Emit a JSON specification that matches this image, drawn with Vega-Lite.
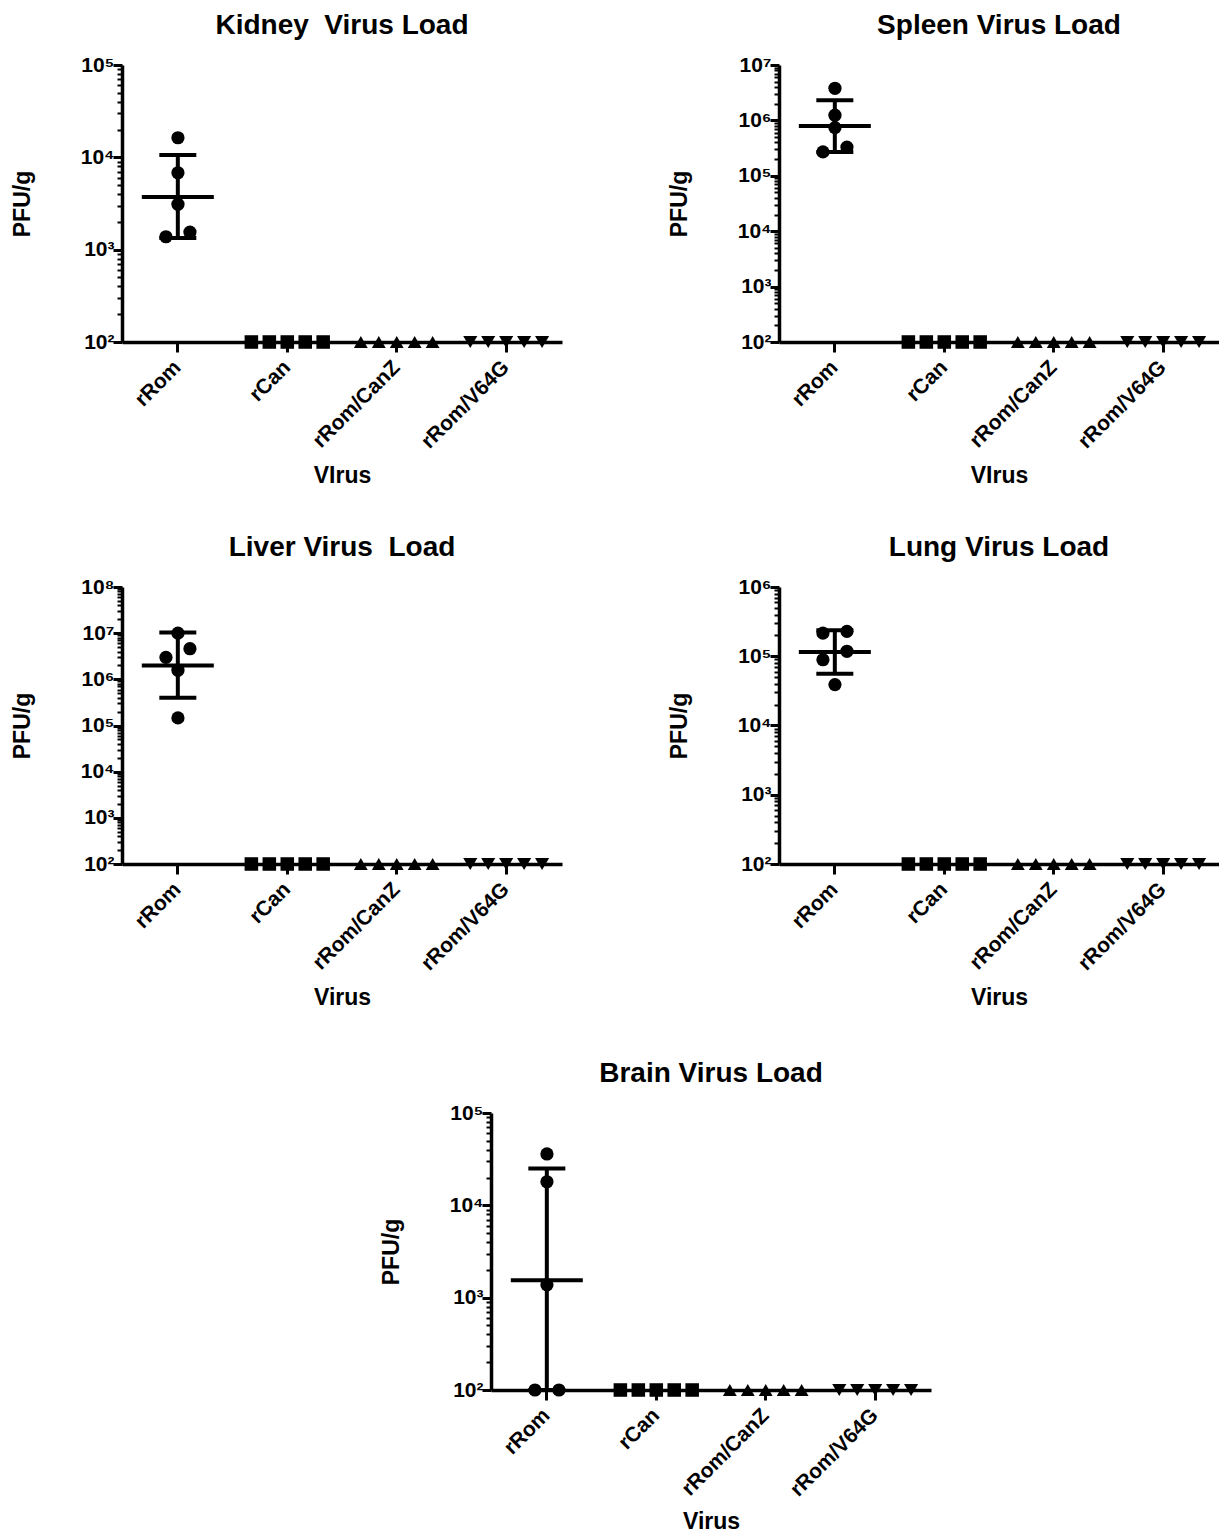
{
  "$schema": "https://vega.github.io/schema/vega-lite/v6.json",
  "background": "white",
  "padding": {"left": 11, "top": 12, "right": 0, "bottom": 0},
  "datasets": {
    "points": [
      {"tissue": "Kidney", "virus": "rRom", "mouse": 1, "pfu": 1380},
      {"tissue": "Kidney", "virus": "rRom", "mouse": 2, "pfu": 16300},
      {"tissue": "Kidney", "virus": "rRom", "mouse": 3, "pfu": 6800},
      {"tissue": "Kidney", "virus": "rRom", "mouse": 4, "pfu": 3100},
      {"tissue": "Kidney", "virus": "rRom", "mouse": 5, "pfu": 1550},
      {"tissue": "Kidney", "virus": "rCan", "mouse": 1, "pfu": 100},
      {"tissue": "Kidney", "virus": "rCan", "mouse": 2, "pfu": 100},
      {"tissue": "Kidney", "virus": "rCan", "mouse": 3, "pfu": 100},
      {"tissue": "Kidney", "virus": "rCan", "mouse": 4, "pfu": 100},
      {"tissue": "Kidney", "virus": "rCan", "mouse": 5, "pfu": 100},
      {"tissue": "Kidney", "virus": "rRom/CanZ", "mouse": 1, "pfu": 100},
      {"tissue": "Kidney", "virus": "rRom/CanZ", "mouse": 2, "pfu": 100},
      {"tissue": "Kidney", "virus": "rRom/CanZ", "mouse": 3, "pfu": 100},
      {"tissue": "Kidney", "virus": "rRom/CanZ", "mouse": 4, "pfu": 100},
      {"tissue": "Kidney", "virus": "rRom/CanZ", "mouse": 5, "pfu": 100},
      {"tissue": "Kidney", "virus": "rRom/V64G", "mouse": 1, "pfu": 100},
      {"tissue": "Kidney", "virus": "rRom/V64G", "mouse": 2, "pfu": 100},
      {"tissue": "Kidney", "virus": "rRom/V64G", "mouse": 3, "pfu": 100},
      {"tissue": "Kidney", "virus": "rRom/V64G", "mouse": 4, "pfu": 100},
      {"tissue": "Kidney", "virus": "rRom/V64G", "mouse": 5, "pfu": 100},
      {"tissue": "Spleen", "virus": "rRom", "mouse": 1, "pfu": 270000},
      {"tissue": "Spleen", "virus": "rRom", "mouse": 2, "pfu": 3800000},
      {"tissue": "Spleen", "virus": "rRom", "mouse": 3, "pfu": 1240000},
      {"tissue": "Spleen", "virus": "rRom", "mouse": 4, "pfu": 740000},
      {"tissue": "Spleen", "virus": "rRom", "mouse": 5, "pfu": 330000},
      {"tissue": "Spleen", "virus": "rCan", "mouse": 1, "pfu": 100},
      {"tissue": "Spleen", "virus": "rCan", "mouse": 2, "pfu": 100},
      {"tissue": "Spleen", "virus": "rCan", "mouse": 3, "pfu": 100},
      {"tissue": "Spleen", "virus": "rCan", "mouse": 4, "pfu": 100},
      {"tissue": "Spleen", "virus": "rCan", "mouse": 5, "pfu": 100},
      {"tissue": "Spleen", "virus": "rRom/CanZ", "mouse": 1, "pfu": 100},
      {"tissue": "Spleen", "virus": "rRom/CanZ", "mouse": 2, "pfu": 100},
      {"tissue": "Spleen", "virus": "rRom/CanZ", "mouse": 3, "pfu": 100},
      {"tissue": "Spleen", "virus": "rRom/CanZ", "mouse": 4, "pfu": 100},
      {"tissue": "Spleen", "virus": "rRom/CanZ", "mouse": 5, "pfu": 100},
      {"tissue": "Spleen", "virus": "rRom/V64G", "mouse": 1, "pfu": 100},
      {"tissue": "Spleen", "virus": "rRom/V64G", "mouse": 2, "pfu": 100},
      {"tissue": "Spleen", "virus": "rRom/V64G", "mouse": 3, "pfu": 100},
      {"tissue": "Spleen", "virus": "rRom/V64G", "mouse": 4, "pfu": 100},
      {"tissue": "Spleen", "virus": "rRom/V64G", "mouse": 5, "pfu": 100},
      {"tissue": "Liver", "virus": "rRom", "mouse": 1, "pfu": 3000000},
      {"tissue": "Liver", "virus": "rRom", "mouse": 2, "pfu": 10000000},
      {"tissue": "Liver", "virus": "rRom", "mouse": 3, "pfu": 1570000},
      {"tissue": "Liver", "virus": "rRom", "mouse": 4, "pfu": 146000},
      {"tissue": "Liver", "virus": "rRom", "mouse": 5, "pfu": 4600000},
      {"tissue": "Liver", "virus": "rCan", "mouse": 1, "pfu": 100},
      {"tissue": "Liver", "virus": "rCan", "mouse": 2, "pfu": 100},
      {"tissue": "Liver", "virus": "rCan", "mouse": 3, "pfu": 100},
      {"tissue": "Liver", "virus": "rCan", "mouse": 4, "pfu": 100},
      {"tissue": "Liver", "virus": "rCan", "mouse": 5, "pfu": 100},
      {"tissue": "Liver", "virus": "rRom/CanZ", "mouse": 1, "pfu": 100},
      {"tissue": "Liver", "virus": "rRom/CanZ", "mouse": 2, "pfu": 100},
      {"tissue": "Liver", "virus": "rRom/CanZ", "mouse": 3, "pfu": 100},
      {"tissue": "Liver", "virus": "rRom/CanZ", "mouse": 4, "pfu": 100},
      {"tissue": "Liver", "virus": "rRom/CanZ", "mouse": 5, "pfu": 100},
      {"tissue": "Liver", "virus": "rRom/V64G", "mouse": 1, "pfu": 100},
      {"tissue": "Liver", "virus": "rRom/V64G", "mouse": 2, "pfu": 100},
      {"tissue": "Liver", "virus": "rRom/V64G", "mouse": 3, "pfu": 100},
      {"tissue": "Liver", "virus": "rRom/V64G", "mouse": 4, "pfu": 100},
      {"tissue": "Liver", "virus": "rRom/V64G", "mouse": 5, "pfu": 100},
      {"tissue": "Lung", "virus": "rRom", "mouse": 1, "pfu": 216000},
      {"tissue": "Lung", "virus": "rRom", "mouse": 2, "pfu": 89000},
      {"tissue": "Lung", "virus": "rRom", "mouse": 3, "pfu": 39000},
      {"tissue": "Lung", "virus": "rRom", "mouse": 4, "pfu": 118000},
      {"tissue": "Lung", "virus": "rRom", "mouse": 5, "pfu": 229000},
      {"tissue": "Lung", "virus": "rCan", "mouse": 1, "pfu": 100},
      {"tissue": "Lung", "virus": "rCan", "mouse": 2, "pfu": 100},
      {"tissue": "Lung", "virus": "rCan", "mouse": 3, "pfu": 100},
      {"tissue": "Lung", "virus": "rCan", "mouse": 4, "pfu": 100},
      {"tissue": "Lung", "virus": "rCan", "mouse": 5, "pfu": 100},
      {"tissue": "Lung", "virus": "rRom/CanZ", "mouse": 1, "pfu": 100},
      {"tissue": "Lung", "virus": "rRom/CanZ", "mouse": 2, "pfu": 100},
      {"tissue": "Lung", "virus": "rRom/CanZ", "mouse": 3, "pfu": 100},
      {"tissue": "Lung", "virus": "rRom/CanZ", "mouse": 4, "pfu": 100},
      {"tissue": "Lung", "virus": "rRom/CanZ", "mouse": 5, "pfu": 100},
      {"tissue": "Lung", "virus": "rRom/V64G", "mouse": 1, "pfu": 100},
      {"tissue": "Lung", "virus": "rRom/V64G", "mouse": 2, "pfu": 100},
      {"tissue": "Lung", "virus": "rRom/V64G", "mouse": 3, "pfu": 100},
      {"tissue": "Lung", "virus": "rRom/V64G", "mouse": 4, "pfu": 100},
      {"tissue": "Lung", "virus": "rRom/V64G", "mouse": 5, "pfu": 100},
      {"tissue": "Brain", "virus": "rRom", "mouse": 1, "pfu": 100},
      {"tissue": "Brain", "virus": "rRom", "mouse": 2, "pfu": 36000},
      {"tissue": "Brain", "virus": "rRom", "mouse": 3, "pfu": 18000},
      {"tissue": "Brain", "virus": "rRom", "mouse": 4, "pfu": 1380},
      {"tissue": "Brain", "virus": "rRom", "mouse": 5, "pfu": 100},
      {"tissue": "Brain", "virus": "rCan", "mouse": 1, "pfu": 100},
      {"tissue": "Brain", "virus": "rCan", "mouse": 2, "pfu": 100},
      {"tissue": "Brain", "virus": "rCan", "mouse": 3, "pfu": 100},
      {"tissue": "Brain", "virus": "rCan", "mouse": 4, "pfu": 100},
      {"tissue": "Brain", "virus": "rCan", "mouse": 5, "pfu": 100},
      {"tissue": "Brain", "virus": "rRom/CanZ", "mouse": 1, "pfu": 100},
      {"tissue": "Brain", "virus": "rRom/CanZ", "mouse": 2, "pfu": 100},
      {"tissue": "Brain", "virus": "rRom/CanZ", "mouse": 3, "pfu": 100},
      {"tissue": "Brain", "virus": "rRom/CanZ", "mouse": 4, "pfu": 100},
      {"tissue": "Brain", "virus": "rRom/CanZ", "mouse": 5, "pfu": 100},
      {"tissue": "Brain", "virus": "rRom/V64G", "mouse": 1, "pfu": 100},
      {"tissue": "Brain", "virus": "rRom/V64G", "mouse": 2, "pfu": 100},
      {"tissue": "Brain", "virus": "rRom/V64G", "mouse": 3, "pfu": 100},
      {"tissue": "Brain", "virus": "rRom/V64G", "mouse": 4, "pfu": 100},
      {"tissue": "Brain", "virus": "rRom/V64G", "mouse": 5, "pfu": 100}
    ],
    "summary": [
      {"tissue": "Kidney", "virus": "rRom", "gmean": 3720, "lo": 1340, "hi": 10600},
      {"tissue": "Spleen", "virus": "rRom", "gmean": 790000, "lo": 270000, "hi": 2300000},
      {"tissue": "Liver", "virus": "rRom", "gmean": 1990000, "lo": 400000, "hi": 10400000},
      {"tissue": "Lung", "virus": "rRom", "gmean": 115000, "lo": 56000, "hi": 237000},
      {"tissue": "Brain", "virus": "rRom", "gmean": 1540, "lo": 100, "hi": 25000}
    ]
  },
  "vconcat": [
    {
      "spacing": 46,
      "vconcat": [
        {
          "spacing": 106,
          "hconcat": [
            {
              "width": 440, "height": 277,
              "title": "Kidney\u00a0 Virus Load",
              "layer": [
                {"data": {"name": "summary"}, "transform": [{"filter": "datum.tissue == 'Kidney'"}],
                 "mark": {"type": "tick", "size": 72, "thickness": 4, "color": "black", "opacity": 1},
                 "encoding": {
                   "x": {"field": "virus", "type": "nominal", "title": "VIrus", "scale": {"type": "band", "domain": ["rRom", "rCan", "rRom/CanZ", "rRom/V64G"], "paddingInner": 0.18, "paddingOuter": 0.1}},
                   "y": {"field": "gmean", "type": "quantitative", "title": "PFU/g", "scale": {"type": "log", "domain": [100, 100000], "nice": false},
                         "axis": {"values": [1e2,2e2,3e2,4e2,5e2,6e2,7e2,8e2,9e2,1e3,2e3,3e3,4e3,5e3,6e3,7e3,8e3,9e3,1e4,2e4,3e4,4e4,5e4,6e4,7e4,8e4,9e4,1e5,2e5,3e5,4e5,5e5,6e5,7e5,8e5,9e5,1e6,2e6,3e6,4e6,5e6,6e6,7e6,8e6,9e6,1e7,2e7,3e7,4e7,5e7,6e7,7e7,8e7,9e7,1e8]}}
                 }},
                {"data": {"name": "summary"}, "transform": [{"filter": "datum.tissue == 'Kidney'"}],
                 "mark": {"type": "errorbar", "ticks": {"size": 37, "thickness": 4, "color": "black", "opacity": 1}, "rule": {"strokeWidth": 4, "color": "black", "opacity": 1}},
                 "encoding": {
                   "x": {"field": "virus", "type": "nominal", "title": "VIrus", "scale": {"type": "band", "domain": ["rRom", "rCan", "rRom/CanZ", "rRom/V64G"], "paddingInner": 0.18, "paddingOuter": 0.1}},
                   "y": {"field": "lo", "type": "quantitative", "title": "PFU/g", "scale": {"type": "log", "domain": [100, 100000], "nice": false}},
                   "y2": {"field": "hi"}
                 }},
                {"data": {"name": "points"}, "transform": [{"filter": "datum.tissue == 'Kidney' && datum.virus == 'rRom'"}],
                 "mark": {"type": "point", "filled": true, "opacity": 1, "color": "black"},
                 "encoding": {
                   "x": {"field": "virus", "type": "nominal", "title": "VIrus", "scale": {"type": "band", "domain": ["rRom", "rCan", "rRom/CanZ", "rRom/V64G"], "paddingInner": 0.18, "paddingOuter": 0.1}},
                   "xOffset": {"field": "mouse", "type": "quantitative", "scale": {"domain": [1, 2, 3, 4, 5], "range": [33, 45, 45, 45, 57], "nice": false, "zero": false}},
                   "y": {"field": "pfu", "type": "quantitative", "title": "PFU/g", "scale": {"type": "log", "domain": [100, 100000], "nice": false}},
                   "shape": {"field": "virus", "type": "nominal", "legend": null, "scale": {"domain": ["rRom", "rCan", "rRom/CanZ", "rRom/V64G"], "range": ["circle", "square", "triangle-up", "triangle-down"]}},
                   "size": {"field": "virus", "type": "nominal", "legend": null, "scale": {"domain": ["rRom", "rCan", "rRom/CanZ", "rRom/V64G"], "range": [175, 200, 200, 200]}}
                 }},
                {"data": {"name": "points"}, "transform": [{"filter": "datum.tissue == 'Kidney' && datum.virus != 'rRom'"}],
                 "mark": {"type": "point", "filled": true, "opacity": 1, "color": "black"},
                 "encoding": {
                   "x": {"field": "virus", "type": "nominal", "title": "VIrus", "scale": {"type": "band", "domain": ["rRom", "rCan", "rRom/CanZ", "rRom/V64G"], "paddingInner": 0.18, "paddingOuter": 0.1}},
                   "xOffset": {"field": "mouse", "type": "ordinal"},
                   "y": {"field": "pfu", "type": "quantitative", "title": "PFU/g", "scale": {"type": "log", "domain": [100, 100000], "nice": false}},
                   "shape": {"field": "virus", "type": "nominal", "legend": null, "scale": {"domain": ["rRom", "rCan", "rRom/CanZ", "rRom/V64G"], "range": ["circle", "square", "triangle-up", "triangle-down"]}},
                   "size": {"field": "virus", "type": "nominal", "legend": null, "scale": {"domain": ["rRom", "rCan", "rRom/CanZ", "rRom/V64G"], "range": [175, 200, 200, 200]}}
                 }}
              ],
              "resolve": {"scale": {"xOffset": "independent"}}
            },
            {
              "width": 440, "height": 277,
              "title": "Spleen Virus Load",
              "layer": [
                {"data": {"name": "summary"}, "transform": [{"filter": "datum.tissue == 'Spleen'"}],
                 "mark": {"type": "tick", "size": 72, "thickness": 4, "color": "black", "opacity": 1},
                 "encoding": {
                   "x": {"field": "virus", "type": "nominal", "title": "VIrus", "scale": {"type": "band", "domain": ["rRom", "rCan", "rRom/CanZ", "rRom/V64G"], "paddingInner": 0.18, "paddingOuter": 0.1}},
                   "y": {"field": "gmean", "type": "quantitative", "title": "PFU/g", "scale": {"type": "log", "domain": [100, 10000000], "nice": false},
                         "axis": {"values": [1e2,2e2,3e2,4e2,5e2,6e2,7e2,8e2,9e2,1e3,2e3,3e3,4e3,5e3,6e3,7e3,8e3,9e3,1e4,2e4,3e4,4e4,5e4,6e4,7e4,8e4,9e4,1e5,2e5,3e5,4e5,5e5,6e5,7e5,8e5,9e5,1e6,2e6,3e6,4e6,5e6,6e6,7e6,8e6,9e6,1e7,2e7,3e7,4e7,5e7,6e7,7e7,8e7,9e7,1e8]}}
                 }},
                {"data": {"name": "summary"}, "transform": [{"filter": "datum.tissue == 'Spleen'"}],
                 "mark": {"type": "errorbar", "ticks": {"size": 37, "thickness": 4, "color": "black", "opacity": 1}, "rule": {"strokeWidth": 4, "color": "black", "opacity": 1}},
                 "encoding": {
                   "x": {"field": "virus", "type": "nominal", "title": "VIrus", "scale": {"type": "band", "domain": ["rRom", "rCan", "rRom/CanZ", "rRom/V64G"], "paddingInner": 0.18, "paddingOuter": 0.1}},
                   "y": {"field": "lo", "type": "quantitative", "title": "PFU/g", "scale": {"type": "log", "domain": [100, 10000000], "nice": false}},
                   "y2": {"field": "hi"}
                 }},
                {"data": {"name": "points"}, "transform": [{"filter": "datum.tissue == 'Spleen' && datum.virus == 'rRom'"}],
                 "mark": {"type": "point", "filled": true, "opacity": 1, "color": "black"},
                 "encoding": {
                   "x": {"field": "virus", "type": "nominal", "title": "VIrus", "scale": {"type": "band", "domain": ["rRom", "rCan", "rRom/CanZ", "rRom/V64G"], "paddingInner": 0.18, "paddingOuter": 0.1}},
                   "xOffset": {"field": "mouse", "type": "quantitative", "scale": {"domain": [1, 2, 3, 4, 5], "range": [33, 45, 45, 45, 57], "nice": false, "zero": false}},
                   "y": {"field": "pfu", "type": "quantitative", "title": "PFU/g", "scale": {"type": "log", "domain": [100, 10000000], "nice": false}},
                   "shape": {"field": "virus", "type": "nominal", "legend": null, "scale": {"domain": ["rRom", "rCan", "rRom/CanZ", "rRom/V64G"], "range": ["circle", "square", "triangle-up", "triangle-down"]}},
                   "size": {"field": "virus", "type": "nominal", "legend": null, "scale": {"domain": ["rRom", "rCan", "rRom/CanZ", "rRom/V64G"], "range": [175, 200, 200, 200]}}
                 }},
                {"data": {"name": "points"}, "transform": [{"filter": "datum.tissue == 'Spleen' && datum.virus != 'rRom'"}],
                 "mark": {"type": "point", "filled": true, "opacity": 1, "color": "black"},
                 "encoding": {
                   "x": {"field": "virus", "type": "nominal", "title": "VIrus", "scale": {"type": "band", "domain": ["rRom", "rCan", "rRom/CanZ", "rRom/V64G"], "paddingInner": 0.18, "paddingOuter": 0.1}},
                   "xOffset": {"field": "mouse", "type": "ordinal"},
                   "y": {"field": "pfu", "type": "quantitative", "title": "PFU/g", "scale": {"type": "log", "domain": [100, 10000000], "nice": false}},
                   "shape": {"field": "virus", "type": "nominal", "legend": null, "scale": {"domain": ["rRom", "rCan", "rRom/CanZ", "rRom/V64G"], "range": ["circle", "square", "triangle-up", "triangle-down"]}},
                   "size": {"field": "virus", "type": "nominal", "legend": null, "scale": {"domain": ["rRom", "rCan", "rRom/CanZ", "rRom/V64G"], "range": [175, 200, 200, 200]}}
                 }}
              ],
              "resolve": {"scale": {"xOffset": "independent"}}
            }
          ]
        },
        {
          "spacing": 106,
          "hconcat": [
            {
              "width": 440, "height": 277,
              "title": "Liver Virus\u00a0 Load",
              "layer": [
                {"data": {"name": "summary"}, "transform": [{"filter": "datum.tissue == 'Liver'"}],
                 "mark": {"type": "tick", "size": 72, "thickness": 4, "color": "black", "opacity": 1},
                 "encoding": {
                   "x": {"field": "virus", "type": "nominal", "title": "Virus", "scale": {"type": "band", "domain": ["rRom", "rCan", "rRom/CanZ", "rRom/V64G"], "paddingInner": 0.18, "paddingOuter": 0.1}},
                   "y": {"field": "gmean", "type": "quantitative", "title": "PFU/g", "scale": {"type": "log", "domain": [100, 100000000], "nice": false},
                         "axis": {"values": [1e2,2e2,3e2,4e2,5e2,6e2,7e2,8e2,9e2,1e3,2e3,3e3,4e3,5e3,6e3,7e3,8e3,9e3,1e4,2e4,3e4,4e4,5e4,6e4,7e4,8e4,9e4,1e5,2e5,3e5,4e5,5e5,6e5,7e5,8e5,9e5,1e6,2e6,3e6,4e6,5e6,6e6,7e6,8e6,9e6,1e7,2e7,3e7,4e7,5e7,6e7,7e7,8e7,9e7,1e8]}}
                 }},
                {"data": {"name": "summary"}, "transform": [{"filter": "datum.tissue == 'Liver'"}],
                 "mark": {"type": "errorbar", "ticks": {"size": 37, "thickness": 4, "color": "black", "opacity": 1}, "rule": {"strokeWidth": 4, "color": "black", "opacity": 1}},
                 "encoding": {
                   "x": {"field": "virus", "type": "nominal", "title": "Virus", "scale": {"type": "band", "domain": ["rRom", "rCan", "rRom/CanZ", "rRom/V64G"], "paddingInner": 0.18, "paddingOuter": 0.1}},
                   "y": {"field": "lo", "type": "quantitative", "title": "PFU/g", "scale": {"type": "log", "domain": [100, 100000000], "nice": false}},
                   "y2": {"field": "hi"}
                 }},
                {"data": {"name": "points"}, "transform": [{"filter": "datum.tissue == 'Liver' && datum.virus == 'rRom'"}],
                 "mark": {"type": "point", "filled": true, "opacity": 1, "color": "black"},
                 "encoding": {
                   "x": {"field": "virus", "type": "nominal", "title": "Virus", "scale": {"type": "band", "domain": ["rRom", "rCan", "rRom/CanZ", "rRom/V64G"], "paddingInner": 0.18, "paddingOuter": 0.1}},
                   "xOffset": {"field": "mouse", "type": "quantitative", "scale": {"domain": [1, 2, 3, 4, 5], "range": [33, 45, 45, 45, 57], "nice": false, "zero": false}},
                   "y": {"field": "pfu", "type": "quantitative", "title": "PFU/g", "scale": {"type": "log", "domain": [100, 100000000], "nice": false}},
                   "shape": {"field": "virus", "type": "nominal", "legend": null, "scale": {"domain": ["rRom", "rCan", "rRom/CanZ", "rRom/V64G"], "range": ["circle", "square", "triangle-up", "triangle-down"]}},
                   "size": {"field": "virus", "type": "nominal", "legend": null, "scale": {"domain": ["rRom", "rCan", "rRom/CanZ", "rRom/V64G"], "range": [175, 200, 200, 200]}}
                 }},
                {"data": {"name": "points"}, "transform": [{"filter": "datum.tissue == 'Liver' && datum.virus != 'rRom'"}],
                 "mark": {"type": "point", "filled": true, "opacity": 1, "color": "black"},
                 "encoding": {
                   "x": {"field": "virus", "type": "nominal", "title": "Virus", "scale": {"type": "band", "domain": ["rRom", "rCan", "rRom/CanZ", "rRom/V64G"], "paddingInner": 0.18, "paddingOuter": 0.1}},
                   "xOffset": {"field": "mouse", "type": "ordinal"},
                   "y": {"field": "pfu", "type": "quantitative", "title": "PFU/g", "scale": {"type": "log", "domain": [100, 100000000], "nice": false}},
                   "shape": {"field": "virus", "type": "nominal", "legend": null, "scale": {"domain": ["rRom", "rCan", "rRom/CanZ", "rRom/V64G"], "range": ["circle", "square", "triangle-up", "triangle-down"]}},
                   "size": {"field": "virus", "type": "nominal", "legend": null, "scale": {"domain": ["rRom", "rCan", "rRom/CanZ", "rRom/V64G"], "range": [175, 200, 200, 200]}}
                 }}
              ],
              "resolve": {"scale": {"xOffset": "independent"}}
            },
            {
              "width": 440, "height": 277,
              "title": "Lung Virus Load",
              "layer": [
                {"data": {"name": "summary"}, "transform": [{"filter": "datum.tissue == 'Lung'"}],
                 "mark": {"type": "tick", "size": 72, "thickness": 4, "color": "black", "opacity": 1},
                 "encoding": {
                   "x": {"field": "virus", "type": "nominal", "title": "Virus", "scale": {"type": "band", "domain": ["rRom", "rCan", "rRom/CanZ", "rRom/V64G"], "paddingInner": 0.18, "paddingOuter": 0.1}},
                   "y": {"field": "gmean", "type": "quantitative", "title": "PFU/g", "scale": {"type": "log", "domain": [100, 1000000], "nice": false},
                         "axis": {"values": [1e2,2e2,3e2,4e2,5e2,6e2,7e2,8e2,9e2,1e3,2e3,3e3,4e3,5e3,6e3,7e3,8e3,9e3,1e4,2e4,3e4,4e4,5e4,6e4,7e4,8e4,9e4,1e5,2e5,3e5,4e5,5e5,6e5,7e5,8e5,9e5,1e6,2e6,3e6,4e6,5e6,6e6,7e6,8e6,9e6,1e7,2e7,3e7,4e7,5e7,6e7,7e7,8e7,9e7,1e8]}}
                 }},
                {"data": {"name": "summary"}, "transform": [{"filter": "datum.tissue == 'Lung'"}],
                 "mark": {"type": "errorbar", "ticks": {"size": 37, "thickness": 4, "color": "black", "opacity": 1}, "rule": {"strokeWidth": 4, "color": "black", "opacity": 1}},
                 "encoding": {
                   "x": {"field": "virus", "type": "nominal", "title": "Virus", "scale": {"type": "band", "domain": ["rRom", "rCan", "rRom/CanZ", "rRom/V64G"], "paddingInner": 0.18, "paddingOuter": 0.1}},
                   "y": {"field": "lo", "type": "quantitative", "title": "PFU/g", "scale": {"type": "log", "domain": [100, 1000000], "nice": false}},
                   "y2": {"field": "hi"}
                 }},
                {"data": {"name": "points"}, "transform": [{"filter": "datum.tissue == 'Lung' && datum.virus == 'rRom'"}],
                 "mark": {"type": "point", "filled": true, "opacity": 1, "color": "black"},
                 "encoding": {
                   "x": {"field": "virus", "type": "nominal", "title": "Virus", "scale": {"type": "band", "domain": ["rRom", "rCan", "rRom/CanZ", "rRom/V64G"], "paddingInner": 0.18, "paddingOuter": 0.1}},
                   "xOffset": {"field": "mouse", "type": "quantitative", "scale": {"domain": [1, 2, 3, 4, 5], "range": [33, 33, 45, 57, 57], "nice": false, "zero": false}},
                   "y": {"field": "pfu", "type": "quantitative", "title": "PFU/g", "scale": {"type": "log", "domain": [100, 1000000], "nice": false}},
                   "shape": {"field": "virus", "type": "nominal", "legend": null, "scale": {"domain": ["rRom", "rCan", "rRom/CanZ", "rRom/V64G"], "range": ["circle", "square", "triangle-up", "triangle-down"]}},
                   "size": {"field": "virus", "type": "nominal", "legend": null, "scale": {"domain": ["rRom", "rCan", "rRom/CanZ", "rRom/V64G"], "range": [175, 200, 200, 200]}}
                 }},
                {"data": {"name": "points"}, "transform": [{"filter": "datum.tissue == 'Lung' && datum.virus != 'rRom'"}],
                 "mark": {"type": "point", "filled": true, "opacity": 1, "color": "black"},
                 "encoding": {
                   "x": {"field": "virus", "type": "nominal", "title": "Virus", "scale": {"type": "band", "domain": ["rRom", "rCan", "rRom/CanZ", "rRom/V64G"], "paddingInner": 0.18, "paddingOuter": 0.1}},
                   "xOffset": {"field": "mouse", "type": "ordinal"},
                   "y": {"field": "pfu", "type": "quantitative", "title": "PFU/g", "scale": {"type": "log", "domain": [100, 1000000], "nice": false}},
                   "shape": {"field": "virus", "type": "nominal", "legend": null, "scale": {"domain": ["rRom", "rCan", "rRom/CanZ", "rRom/V64G"], "range": ["circle", "square", "triangle-up", "triangle-down"]}},
                   "size": {"field": "virus", "type": "nominal", "legend": null, "scale": {"domain": ["rRom", "rCan", "rRom/CanZ", "rRom/V64G"], "range": [175, 200, 200, 200]}}
                 }}
              ],
              "resolve": {"scale": {"xOffset": "independent"}}
            }
          ]
        }
      ]
    },
    {
      "spacing": 20,
      "hconcat": [
        {"width": 238, "height": 10, "data": {"values": [{}]}, "mark": {"type": "text", "text": ""}, "encoding": {}},
        {
          "width": 440, "height": 277,
          "title": "Brain Virus Load",
          "layer": [
            {"data": {"name": "summary"}, "transform": [{"filter": "datum.tissue == 'Brain'"}],
             "mark": {"type": "tick", "size": 72, "thickness": 4, "color": "black", "opacity": 1},
             "encoding": {
               "x": {"field": "virus", "type": "nominal", "title": "Virus", "scale": {"type": "band", "domain": ["rRom", "rCan", "rRom/CanZ", "rRom/V64G"], "paddingInner": 0.18, "paddingOuter": 0.1}, "axis": {"titlePadding": 11}},
               "y": {"field": "gmean", "type": "quantitative", "title": "PFU/g", "scale": {"type": "log", "domain": [100, 100000], "nice": false},
                     "axis": {"values": [1e2,2e2,3e2,4e2,5e2,6e2,7e2,8e2,9e2,1e3,2e3,3e3,4e3,5e3,6e3,7e3,8e3,9e3,1e4,2e4,3e4,4e4,5e4,6e4,7e4,8e4,9e4,1e5,2e5,3e5,4e5,5e5,6e5,7e5,8e5,9e5,1e6,2e6,3e6,4e6,5e6,6e6,7e6,8e6,9e6,1e7,2e7,3e7,4e7,5e7,6e7,7e7,8e7,9e7,1e8]}}
             }},
            {"data": {"name": "summary"}, "transform": [{"filter": "datum.tissue == 'Brain'"}],
             "mark": {"type": "errorbar", "ticks": {"size": 37, "thickness": 4, "color": "black", "opacity": 1}, "rule": {"strokeWidth": 4, "color": "black", "opacity": 1}},
             "encoding": {
               "x": {"field": "virus", "type": "nominal", "title": "Virus", "scale": {"type": "band", "domain": ["rRom", "rCan", "rRom/CanZ", "rRom/V64G"], "paddingInner": 0.18, "paddingOuter": 0.1}},
               "y": {"field": "lo", "type": "quantitative", "title": "PFU/g", "scale": {"type": "log", "domain": [100, 100000], "nice": false}},
               "y2": {"field": "hi"}
             }},
            {"data": {"name": "points"}, "transform": [{"filter": "datum.tissue == 'Brain' && datum.virus == 'rRom'"}],
             "mark": {"type": "point", "filled": true, "opacity": 1, "color": "black"},
             "encoding": {
               "x": {"field": "virus", "type": "nominal", "title": "Virus", "scale": {"type": "band", "domain": ["rRom", "rCan", "rRom/CanZ", "rRom/V64G"], "paddingInner": 0.18, "paddingOuter": 0.1}},
               "xOffset": {"field": "mouse", "type": "quantitative", "scale": {"domain": [1, 2, 3, 4, 5], "range": [33, 45, 45, 45, 57], "nice": false, "zero": false}},
               "y": {"field": "pfu", "type": "quantitative", "title": "PFU/g", "scale": {"type": "log", "domain": [100, 100000], "nice": false}},
               "shape": {"field": "virus", "type": "nominal", "legend": null, "scale": {"domain": ["rRom", "rCan", "rRom/CanZ", "rRom/V64G"], "range": ["circle", "square", "triangle-up", "triangle-down"]}},
               "size": {"field": "virus", "type": "nominal", "legend": null, "scale": {"domain": ["rRom", "rCan", "rRom/CanZ", "rRom/V64G"], "range": [175, 200, 200, 200]}}
             }},
            {"data": {"name": "points"}, "transform": [{"filter": "datum.tissue == 'Brain' && datum.virus != 'rRom'"}],
             "mark": {"type": "point", "filled": true, "opacity": 1, "color": "black"},
             "encoding": {
               "x": {"field": "virus", "type": "nominal", "title": "Virus", "scale": {"type": "band", "domain": ["rRom", "rCan", "rRom/CanZ", "rRom/V64G"], "paddingInner": 0.18, "paddingOuter": 0.1}},
               "xOffset": {"field": "mouse", "type": "ordinal"},
               "y": {"field": "pfu", "type": "quantitative", "title": "PFU/g", "scale": {"type": "log", "domain": [100, 100000], "nice": false}},
               "shape": {"field": "virus", "type": "nominal", "legend": null, "scale": {"domain": ["rRom", "rCan", "rRom/CanZ", "rRom/V64G"], "range": ["circle", "square", "triangle-up", "triangle-down"]}},
               "size": {"field": "virus", "type": "nominal", "legend": null, "scale": {"domain": ["rRom", "rCan", "rRom/CanZ", "rRom/V64G"], "range": [175, 200, 200, 200]}}
             }}
          ],
          "resolve": {"scale": {"xOffset": "independent"}}
        }
      ]
    }
  ],
  "spacing": 50,
  "config": {
    "font": "Liberation Sans",
    "view": {"stroke": null},
    "title": {"font": "Liberation Sans", "fontSize": 28, "fontWeight": "bold", "color": "black", "anchor": "middle", "offset": 14},
    "axis": {
      "labelFont": "Liberation Sans", "titleFont": "Liberation Sans",
      "labelFontSize": 21, "labelFontWeight": "bold", "labelColor": "black",
      "titleFontSize": 23, "titleFontWeight": "bold", "titleColor": "black",
      "domainColor": "black", "domainWidth": 3.5, "tickColor": "black", "grid": false
    },
    "axisX": {"labelAngle": -45, "labelAlign": "right", "labelBaseline": "middle", "tickSize": 10, "tickWidth": 3, "labelPadding": 12, "titlePadding": 13},
    "axisY": {
      "labelOverlap": false,
      "labelPadding": -1,
      "titlePadding": 46,
      "labelExpr": "abs(log(datum.value)/LN10 - round(log(datum.value)/LN10)) < 0.01 ? '10' + ['⁰','¹','²','³','⁴','⁵','⁶','⁷','⁸','⁹'][round(log(datum.value)/LN10)] : ''",
      "tickSize": {"condition": {"test": "abs(log(datum.value)/LN10 - round(log(datum.value)/LN10)) < 0.01", "value": 9}, "value": 5},
      "tickWidth": {"condition": {"test": "abs(log(datum.value)/LN10 - round(log(datum.value)/LN10)) < 0.01", "value": 3}, "value": 2}
    }
  }
}
